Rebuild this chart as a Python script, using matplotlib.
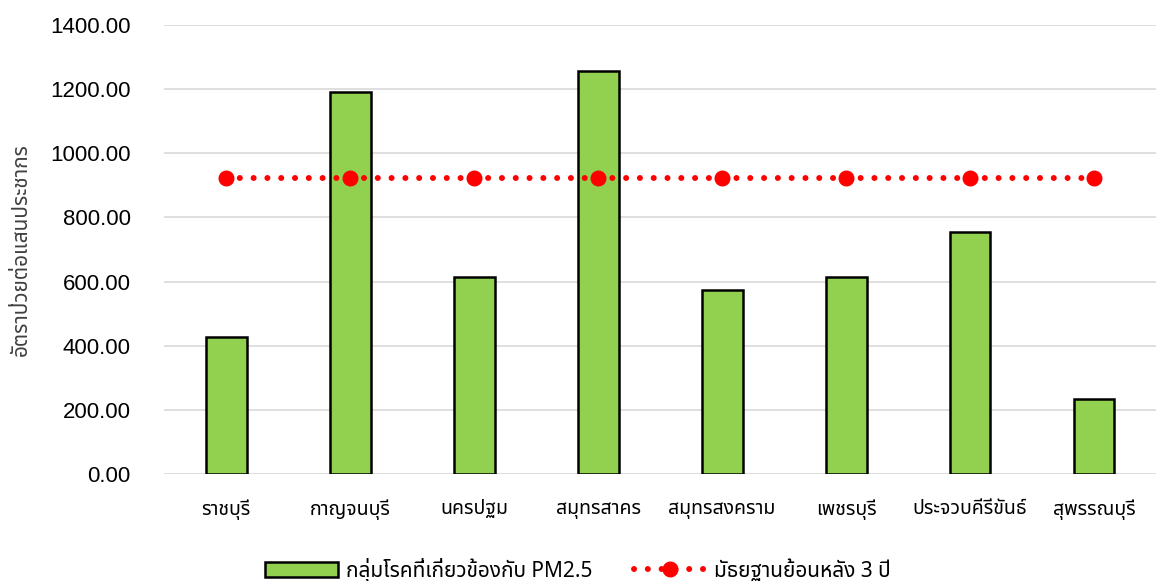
import matplotlib
matplotlib.use("Agg")
import matplotlib.pyplot as plt
from matplotlib import font_manager
from matplotlib.ft2font import FT2Font
from matplotlib.lines import Line2D
from matplotlib.patches import Patch

provinces = ["ราชบุรี", "กาญจนบุรี", "นครปฐม", "สมุทรสาคร",
             "สมุทรสงคราม", "เพชรบุรี", "ประจวบคีรีขันธ์", "สุพรรณบุรี"]
pm25_rate = [428, 1191, 614, 1257, 574, 614, 755, 234]
median_3yr = [923, 923, 923, 923, 923, 923, 923, 923]
yticks = [0, 200, 400, 600, 800, 1000, 1200, 1400]

bar_label = "กลุ่มโรคที่เกี่ยวข้องกับ PM2.5"
line_label = "มัธยฐานย้อนหลัง 3 ปี"
ylabel = "อัตราป่วยต่อแสนประชากร"


# find an installed family that has Thai glyphs
def thai_family():
    names = []
    for f in font_manager.fontManager.ttflist:
        try:
            cmap = FT2Font(f.fname).get_charmap()
        except Exception:
            continue
        if 0x0E01 in cmap and 0x0E38 in cmap:
            names.append(f.name)
    for pref in ["Tahoma", "Noto Sans Thai", "Loma", "Garuda", "Norasi"]:
        if pref in names:
            return pref
    return names[0] if names else "DejaVu Sans"


thai = thai_family()
plt.rcParams["font.family"] = [thai, "Liberation Sans", "DejaVu Sans"]

fig = plt.figure(figsize=(11.56, 5.81), dpi=100)
ax = fig.add_axes([0.142, 0.184, 0.858, 0.773])

x = range(len(provinces))
ax.bar(x, pm25_rate, width=0.33, color="#92D050", edgecolor="black",
       linewidth=1.8, zorder=3)
ax.plot(x, median_3yr, color="red", linewidth=4.3,
        linestyle=(0, (0.01, 2.3)), dash_capstyle="round",
        marker="o", markersize=10.5, zorder=4)

ax.set_xlim(-0.5, len(provinces) - 0.5)
ax.set_ylim(0, 1400)
ax.set_yticks(yticks)
ax.set_yticklabels([f"{v:.2f}" for v in yticks], fontsize=16,
                   family=["Liberation Sans", "DejaVu Sans"])
ax.set_xticks(list(x))
ax.set_xticklabels(provinces, fontsize=14)
ax.tick_params(axis="y", length=0, pad=24)
ax.tick_params(axis="x", length=0, pad=18)
ax.grid(axis="y", color="#d9d9d9", linewidth=1.2, zorder=0)
for s in ax.spines.values():
    s.set_visible(False)
ax.set_ylabel(ylabel, fontsize=15, color="#404040")
ax.yaxis.set_label_coords(-0.133, 0.5)

handles = [Patch(facecolor="#92D050", edgecolor="black", linewidth=1.8),
           Line2D([], [], color="red", linewidth=4.3,
                  linestyle=(0, (0.01, 2.3)), dash_capstyle="round",
                  marker="o", markersize=10.5)]
fig.legend(handles, [bar_label, line_label], loc="lower center",
           bbox_to_anchor=(0.5, -0.035), ncol=2, frameon=False, fontsize=15,
           handlelength=3.5, handleheight=0.75, handletextpad=0.35,
           columnspacing=2.0)

fig.savefig("out.png", dpi=100)
